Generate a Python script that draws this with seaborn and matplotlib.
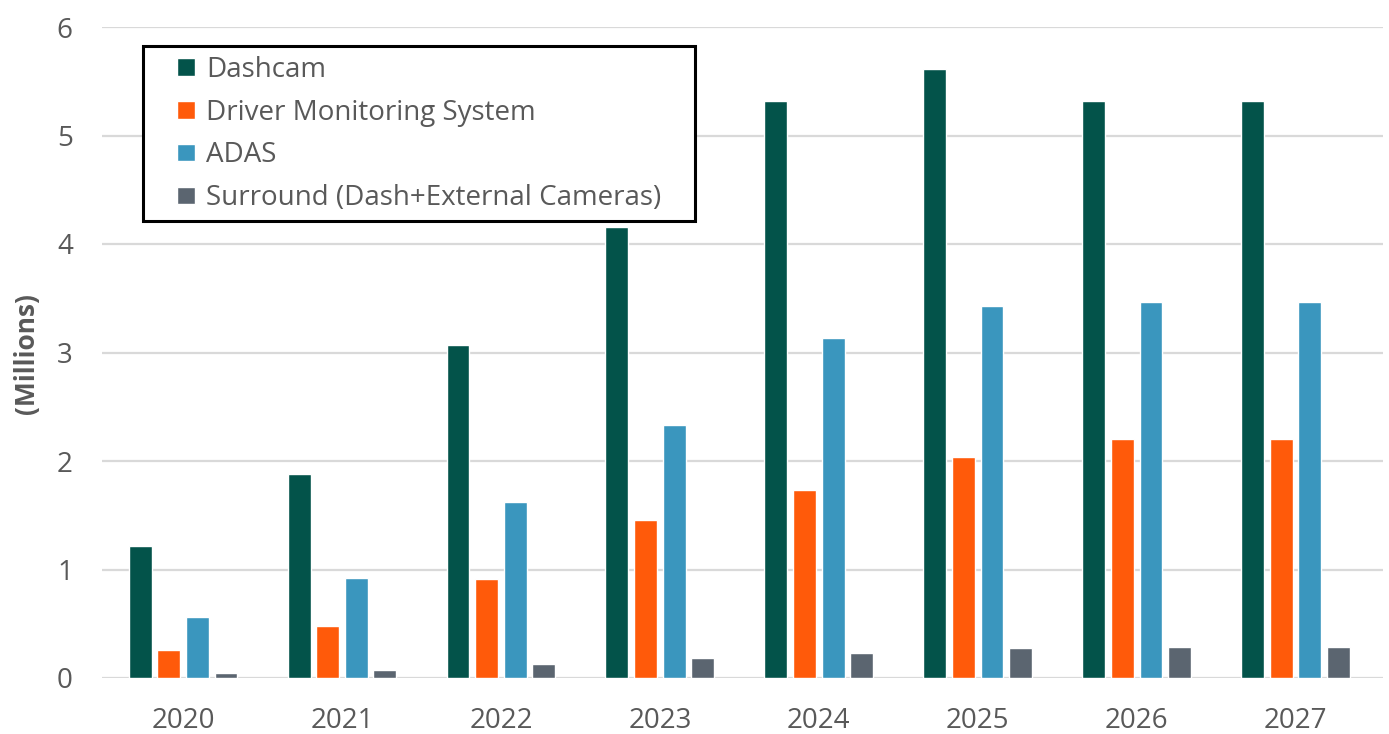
import matplotlib.pyplot as plt
import matplotlib.patches as mpatches
import seaborn as sns
import pandas as pd

years = ["2020", "2021", "2022", "2023", "2024", "2025", "2026", "2027"]
dashcam = [1.22, 1.88, 3.07, 4.16, 5.32, 5.61, 5.32, 5.32]
dms = [0.26, 0.48, 0.91, 1.46, 1.73, 2.04, 2.20, 2.20]
adas = [0.56, 0.92, 1.62, 2.33, 3.13, 3.43, 3.47, 3.47]
surround = [0.05, 0.07, 0.13, 0.18, 0.23, 0.28, 0.29, 0.29]

series = ["Dashcam", "Driver Monitoring System", "ADAS", "Surround (Dash+External Cameras)"]
colors = ["#03534A", "#FF5A0A", "#3A96BE", "#5B6570"]

rows = []
for name, vals in zip(series, [dashcam, dms, adas, surround]):
    for y, v in zip(years, vals):
        rows.append({"Year": y, "Series": name, "Value": v})
df = pd.DataFrame(rows)

sns.set_theme(style="white")
plt.rcParams['font.family'] = ['Open Sans', 'DejaVu Sans']

W, H = 1389, 734
fig = plt.figure(figsize=(W / 100, H / 100), dpi=100)
ax = fig.add_axes([102 / W, 1 - 678 / H, (1383 - 102) / W, (678 - 27) / H])

sns.barplot(data=df, x="Year", y="Value", hue="Series", hue_order=series,
            palette=colors, width=0.72, gap=0.2, saturation=1, ax=ax, zorder=3)

ax.set_ylim(0, 6)
ax.set_xlim(-0.51, 7.55)
ax.set_yticks(range(0, 7))
ax.yaxis.grid(True, color="#D9D9D9", linewidth=1.6, zorder=0)
ax.set_axisbelow(True)
for s in ax.spines.values():
    s.set_visible(False)
ax.tick_params(axis="both", length=0, labelsize=20, colors="#595959")
ax.tick_params(axis="x", pad=21)
ax.tick_params(axis="y", pad=21)
ax.set_xlabel("")
ax.set_ylabel("")
fig.text(27 / W, 1 - 354 / H, "(Millions)", rotation=90, ha="center", va="center",
         fontsize=19, fontweight="bold", color="#595959")

# legend box drawn separately so padding matches the reference
box = mpatches.Rectangle((143 / W, 1 - 221 / H), (695 - 143) / W, (221 - 46) / H,
                         transform=fig.transFigure, facecolor="white",
                         edgecolor="black", linewidth=2.2, zorder=5, clip_on=False)
ax.add_patch(box)

leg = ax.legend(loc="upper left", bbox_to_anchor=(177 / W, 1 - 56 / H),
                bbox_transform=fig.transFigure, fontsize=20, frameon=False,
                handlelength=0.65, handleheight=0.6, handletextpad=0.4,
                labelspacing=0.53, borderpad=0, borderaxespad=0)
leg.set_zorder(6)
for t in leg.get_texts():
    t.set_color("#595959")

fig.savefig("out.png", dpi=100)
